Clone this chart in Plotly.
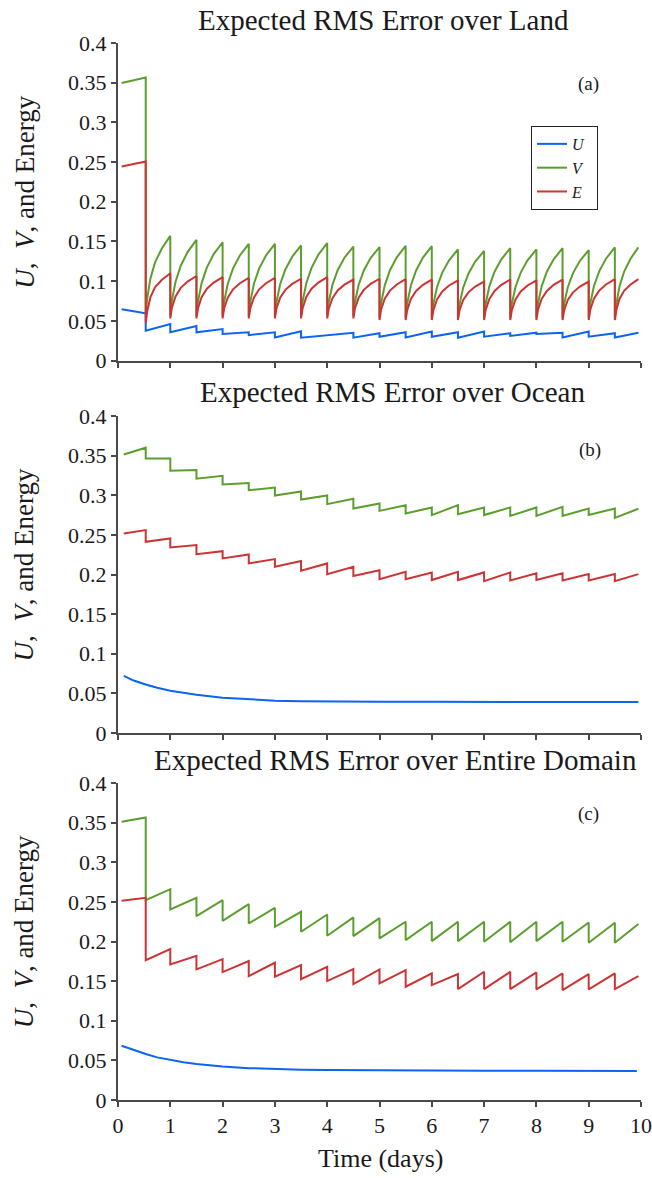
import plotly.graph_objects as go

# ---------------- Panel (a): Land ----------------
t_land = [
    0.07, 0.53,
    0.53, 0.56, 0.62, 0.71, 0.84, 1.0,
    1.0, 1.03, 1.1, 1.2, 1.33, 1.5,
    1.5, 1.53, 1.6, 1.7, 1.83, 2.0,
    2.0, 2.03, 2.1, 2.2, 2.33, 2.5,
    2.5, 2.53, 2.6, 2.7, 2.83, 3.0,
    3.0, 3.03, 3.1, 3.2, 3.33, 3.5,
    3.5, 3.53, 3.6, 3.7, 3.83, 4.0,
    4.0, 4.03, 4.1, 4.2, 4.33, 4.5,
    4.5, 4.53, 4.6, 4.7, 4.83, 5.0,
    5.0, 5.03, 5.1, 5.2, 5.33, 5.5,
    5.5, 5.53, 5.6, 5.7, 5.83, 6.0,
    6.0, 6.03, 6.1, 6.2, 6.33, 6.5,
    6.5, 6.53, 6.6, 6.7, 6.83, 7.0,
    7.0, 7.03, 7.1, 7.2, 7.33, 7.5,
    7.5, 7.53, 7.6, 7.7, 7.83, 8.0,
    8.0, 8.03, 8.1, 8.2, 8.33, 8.5,
    8.5, 8.53, 8.6, 8.7, 8.83, 9.0,
    9.0, 9.03, 9.1, 9.2, 9.33, 9.5,
    9.5, 9.53, 9.59, 9.68, 9.8, 9.95,
]
v_land = [
    0.3496, 0.3566,
    0.0595, 0.0790, 0.1034, 0.1239, 0.1414, 0.157,
    0.056, 0.0752, 0.0992, 0.1194, 0.1366, 0.152,
    0.056, 0.0746, 0.0979, 0.1174, 0.1341, 0.149,
    0.056, 0.0742, 0.0970, 0.1161, 0.1324, 0.147,
    0.056, 0.0742, 0.0970, 0.1161, 0.1324, 0.147,
    0.056, 0.0738, 0.0961, 0.1147, 0.1308, 0.145,
    0.056, 0.0744, 0.0974, 0.1167, 0.1333, 0.148,
    0.056, 0.0735, 0.0954, 0.1138, 0.1295, 0.1435,
    0.056, 0.0734, 0.0952, 0.1134, 0.1291, 0.143,
    0.054, 0.0721, 0.0947, 0.1137, 0.1300, 0.1445,
    0.054, 0.0720, 0.0945, 0.1134, 0.1296, 0.144,
    0.054, 0.0712, 0.0927, 0.1108, 0.1262, 0.140,
    0.054, 0.0708, 0.0918, 0.1094, 0.1246, 0.138,
    0.054, 0.0715, 0.0934, 0.1118, 0.1275, 0.1415,
    0.054, 0.0712, 0.0927, 0.1108, 0.1262, 0.140,
    0.054, 0.0715, 0.0934, 0.1118, 0.1275, 0.1415,
    0.054, 0.0710, 0.0923, 0.1101, 0.1254, 0.139,
    0.054, 0.0717, 0.0938, 0.1124, 0.1283, 0.1425,
    0.054, 0.0717, 0.0938, 0.1124, 0.1283, 0.1425,
]
e_land = [
    0.2444, 0.2507,
    0.047, 0.0628, 0.0798, 0.0924, 0.1018, 0.110,
    0.053, 0.0664, 0.0808, 0.0915, 0.0995, 0.1065,
    0.053, 0.0660, 0.0800, 0.0904, 0.0982, 0.105,
    0.053, 0.0658, 0.0795, 0.0897, 0.0974, 0.104,
    0.053, 0.0658, 0.0795, 0.0897, 0.0974, 0.104,
    0.053, 0.0655, 0.0790, 0.0890, 0.0965, 0.103,
    0.053, 0.0660, 0.0800, 0.0904, 0.0982, 0.105,
    0.053, 0.0653, 0.0785, 0.0883, 0.0956, 0.102,
    0.053, 0.0655, 0.0790, 0.0890, 0.0965, 0.103,
    0.051, 0.0639, 0.0778, 0.0881, 0.0958, 0.1025,
    0.051, 0.0638, 0.0775, 0.0877, 0.0954, 0.102,
    0.051, 0.0635, 0.0770, 0.0870, 0.0945, 0.101,
    0.051, 0.0631, 0.0762, 0.0859, 0.0932, 0.0995,
    0.051, 0.0638, 0.0775, 0.0877, 0.0954, 0.102,
    0.051, 0.0635, 0.0770, 0.0870, 0.0945, 0.101,
    0.051, 0.0638, 0.0775, 0.0877, 0.0954, 0.102,
    0.051, 0.0631, 0.0762, 0.0859, 0.0932, 0.0995,
    0.051, 0.0639, 0.0778, 0.0881, 0.0958, 0.1025,
    0.051, 0.0639, 0.0778, 0.0881, 0.0958, 0.1025,
]
tu_land = [0.07, 0.53, 0.53, 1.0, 1.0, 1.5, 1.5, 2.0, 2.0, 2.5, 2.5, 3.0, 3.0, 3.5, 3.5,
           4.5, 4.5, 5.0, 5.0, 5.5, 5.5, 6.0, 6.0, 6.5, 6.5, 7.0, 7.0, 7.5, 7.5,
           8.0, 8.0, 8.5, 8.5, 9.0, 9.0, 9.5, 9.5, 9.95]
u_land = [0.0645, 0.0595, 0.0376, 0.046, 0.0355, 0.0435, 0.0356, 0.0397, 0.0334, 0.0355,
          0.032, 0.0355, 0.029, 0.0368, 0.0288, 0.035, 0.0288, 0.0343, 0.030, 0.0356,
          0.029, 0.0365, 0.030, 0.0356, 0.0288, 0.0365, 0.030, 0.0343, 0.031, 0.035,
          0.0335, 0.035, 0.029, 0.0365, 0.030, 0.0345, 0.029, 0.035]

# ---------------- Panel (b): Ocean ----------------
tv_ocean = [0.11, 0.53, 0.53, 1.0, 1.0, 1.5, 1.5, 2.0, 2.0, 2.5, 2.5, 3.0, 3.0, 3.5, 3.5,
            4.0, 4.0, 4.5, 4.5, 5.0, 5.0, 5.5, 5.5, 6.0, 6.0, 6.5, 6.5, 7.0, 7.0, 7.5,
            7.5, 8.0, 8.0, 8.5, 8.5, 9.0, 9.0, 9.5, 9.5, 9.95]
v_ocean = [0.3514, 0.360, 0.3464, 0.3464, 0.331, 0.3318, 0.321, 0.3245, 0.3136, 0.3154,
           0.3064, 0.3098, 0.2997, 0.3047, 0.2947, 0.2997, 0.2888, 0.2955, 0.2833, 0.2896,
           0.2803, 0.2875, 0.277, 0.2846, 0.275, 0.2875, 0.2762, 0.2846, 0.275, 0.2846,
           0.274, 0.2846, 0.274, 0.2854, 0.274, 0.2833, 0.275, 0.2833, 0.2715, 0.283]
e_ocean = [0.2518, 0.256, 0.2413, 0.2455, 0.2342, 0.2371, 0.2257, 0.2295, 0.2203, 0.2253,
           0.214, 0.2194, 0.2097, 0.2169, 0.2047, 0.214, 0.2005, 0.2097, 0.198, 0.2055,
           0.1942, 0.2034, 0.1942, 0.2026, 0.193, 0.2034, 0.193, 0.2026, 0.1917, 0.2026,
           0.1925, 0.2014, 0.193, 0.2014, 0.1925, 0.2005, 0.1925, 0.2005, 0.1917, 0.2005]
tu_ocean = [0.11, 0.3, 0.53, 0.75, 1.0, 1.25, 1.5, 2.0, 2.5, 3.0, 3.5, 4.0, 5.0, 6.0,
            7.0, 8.0, 9.0, 9.95]
u_ocean = [0.0720, 0.0662, 0.0612, 0.0570, 0.0534, 0.0505, 0.0482, 0.0445, 0.0422, 0.0408,
           0.0400, 0.0396, 0.0394, 0.0394, 0.0394, 0.0394, 0.0393, 0.0390]

# ---------------- Panel (c): Entire domain ----------------
tv_all = [0.07, 0.53, 0.53, 1.0, 1.0, 1.5, 1.5, 2.0, 2.0, 2.5, 2.5, 3.0, 3.0, 3.5, 3.5,
          4.0, 4.0, 4.5, 4.5, 5.0, 5.0, 5.5, 5.5, 6.0, 6.0, 6.5, 6.5, 7.0, 7.0, 7.5,
          7.5, 8.0, 8.0, 8.5, 8.5, 9.0, 9.0, 9.5, 9.5, 9.95]
v_all = [0.351, 0.3565, 0.2522, 0.266, 0.2404, 0.2551, 0.232, 0.2522, 0.2261, 0.2472,
         0.2228, 0.2425, 0.2186, 0.2375, 0.2123, 0.2341, 0.2072, 0.2304, 0.2068, 0.2295,
         0.2039, 0.2249, 0.2018, 0.2249, 0.2005, 0.2249, 0.2005, 0.2249, 0.1997, 0.2249,
         0.199, 0.2249, 0.2005, 0.2249, 0.1997, 0.224, 0.1984, 0.2236, 0.1984, 0.222]
e_all = [0.2514, 0.2551, 0.1765, 0.1904, 0.1711, 0.182, 0.1648, 0.1778, 0.1614, 0.1753,
         0.1564, 0.1732, 0.1555, 0.1702, 0.1526, 0.1681, 0.1501, 0.1652, 0.1463, 0.1648,
         0.1471, 0.1639, 0.1429, 0.1597, 0.145, 0.1589, 0.140, 0.1618, 0.140, 0.1618,
         0.140, 0.161, 0.1395, 0.1597, 0.1387, 0.1589, 0.1395, 0.1597, 0.140, 0.1564]
tu_all = [0.07, 0.3, 0.53, 0.75, 1.0, 1.25, 1.5, 2.0, 2.5, 3.0, 3.5, 4.0, 5.0, 6.0,
          7.0, 8.0, 9.0, 9.92]
u_all = [0.0685, 0.0628, 0.0580, 0.0538, 0.0504, 0.0476, 0.0455, 0.0422, 0.0402, 0.0390,
         0.0383, 0.0378, 0.0373, 0.0371, 0.0370, 0.0369, 0.0368, 0.0366]

titles = ["Expected RMS Error over Land", "Expected RMS Error over Ocean",
          "Expected RMS Error over Entire Domain"]
panel_tags = ["(a)", "(b)", "(c)"]
y_ticks = [0, 0.05, 0.1, 0.15, 0.2, 0.25, 0.3, 0.35, 0.4]
x_ticks = list(range(0, 11))

C_U = "#0c63f5"
C_V = "#5b9e2e"
C_E = "#cc3434"
FONT = "Liberation Serif"
AX = "#4a4a4a"

fig = go.Figure()

panels = [
    (tu_land, u_land, t_land, v_land, t_land, e_land),
    (tu_ocean, u_ocean, tv_ocean, v_ocean, tv_ocean, e_ocean),
    (tu_all, u_all, tv_all, v_all, tv_all, e_all),
]
names = ["<i>U</i>&nbsp;&nbsp;", "<i>V</i>&nbsp;&nbsp;", "<i>E</i>&nbsp;&nbsp;"]
for i, (tu, u, tv, v, te, e) in enumerate(panels):
    xa = "x" if i == 0 else f"x{i+1}"
    ya = "y" if i == 0 else f"y{i+1}"
    for (tx, ty, col, nm) in [(tu, u, C_U, names[0]), (tv, v, C_V, names[1]), (te, e, C_E, names[2])]:
        fig.add_trace(go.Scatter(x=tx, y=ty, mode="lines", name=nm,
                                 line=dict(color=col, width=2),
                                 xaxis=xa, yaxis=ya, showlegend=(i == 0)))

domains = [[0.6996, 1.0], [0.3472, 0.6471], [0.0, 0.2999]]
base_axis = dict(showline=True, linecolor=AX, linewidth=2, ticks="outside", ticklen=5,
                 tickwidth=2, tickcolor=AX, showgrid=False, zeroline=False, automargin=False,
                 tickfont=dict(family=FONT, size=22, color="#1a1a1a"))
layout = {}
for i in range(3):
    xk = "xaxis" if i == 0 else f"xaxis{i+1}"
    yk = "yaxis" if i == 0 else f"yaxis{i+1}"
    ya = "y" if i == 0 else f"y{i+1}"
    xa = "x" if i == 0 else f"x{i+1}"
    layout[xk] = dict(base_axis, range=[0, 10], tickvals=x_ticks, domain=[0, 1],
                      anchor=ya, showticklabels=(i == 2))
    layout[yk] = dict(base_axis, range=[0, 0.4], tickvals=y_ticks, domain=domains[i],
                      anchor=xa)
fig.update_layout(**layout)

ann = []
title_x = [0.5067, 0.5258, 0.5315]
title_y = [1.0218, 0.6698, 0.3217]
for i in range(3):
    ann.append(dict(text=titles[i], xref="paper", yref="paper", x=title_x[i], y=title_y[i],
                    xanchor="center", yanchor="middle", showarrow=False,
                    font=dict(family=FONT, size=29, color="#1a1a1a")))
    ann.append(dict(text="<i>U</i>,  <i>V</i>, and Energy", xref="paper", yref="paper",
                    x=-0.178, y=(domains[i][0] + domains[i][1]) / 2 + 0.0095, textangle=-90,
                    xanchor="center", yanchor="middle", showarrow=False,
                    font=dict(family=FONT, size=27, color="#1a1a1a")))
tag_pos = [(9.0, 0.3484), (9.03, 0.3575), (8.99, 0.3607)]
for i in range(3):
    xa = "x" if i == 0 else f"x{i+1}"
    ya = "y" if i == 0 else f"y{i+1}"
    ann.append(dict(text=panel_tags[i], xref=xa, yref=ya, x=tag_pos[i][0], y=tag_pos[i][1],
                    xanchor="center", yanchor="middle", showarrow=False,
                    font=dict(family=FONT, size=19, color="#1a1a1a")))
ann.append(dict(text="Time (days)", xref="paper", yref="paper", x=0.501, y=-0.0549,
                xanchor="center", yanchor="middle", showarrow=False,
                font=dict(family=FONT, size=26, color="#1a1a1a")))

fig.update_layout(
    width=652, height=1178,
    margin=dict(l=118, r=11, t=43, b=78, autoexpand=False),
    paper_bgcolor="white", plot_bgcolor="white",
    annotations=ann,
    legend=dict(x=0.7897, y=0.9215, xanchor="left", yanchor="top",
                bgcolor="white", bordercolor="#222", borderwidth=1,
                font=dict(family=FONT, size=16, color="#1a1a1a"),
                itemwidth=30, tracegroupgap=0),
)

fig.write_html("out.html", config={"displayModeBar": False},
               post_script="document.body.style.margin='0';document.body.style.padding='0';")
